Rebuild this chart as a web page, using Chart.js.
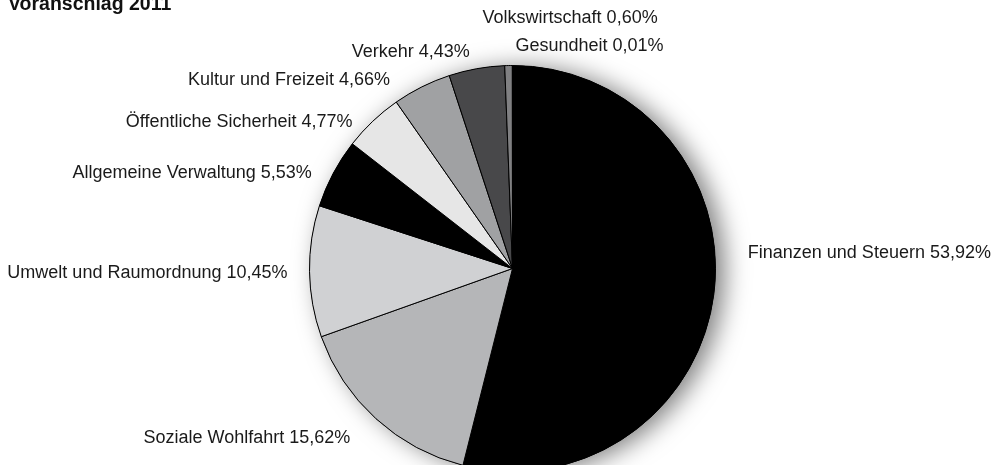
<!DOCTYPE html>
<html>
<head>
<meta charset="utf-8">
<script src="https://cdn.jsdelivr.net/npm/chart.js@4.4.1/dist/chart.umd.min.js"></script>
<style>
    html, body { margin: 0; padding: 0; background: #fff; overflow: hidden; }
    #wrap { width: 1000px; height: 480px; }
</style>
</head>
<body>
<div id="wrap"><canvas id="graficoPizza" width="1000" height="480"></canvas></div>
<script>
const titulo = "Voranschlag 2011";

const bereiche = [
    "Finanzen und Steuern",
    "Soziale Wohlfahrt",
    "Umwelt und Raumordnung",
    "Allgemeine Verwaltung",
    "Öffentliche Sicherheit",
    "Kultur und Freizeit",
    "Verkehr",
    "Volkswirtschaft",
    "Gesundheit"
];

const anteile = [53.92, 15.62, 10.45, 5.53, 4.77, 4.66, 4.43, 0.60, 0.01];

const farben = ["#000000", "#b5b6b8", "#d0d1d3", "#000000", "#e6e6e6", "#a0a1a3", "#48484a", "#808082", "#3a3a3a"];

// kleine Verschiebungen der Beschriftungen gegenüber der Winkelmitte
const labelNudge = [[12, -43], [-11, 3], [0, 1], [-2, 10], [-5, 17], [-22, 13], [-3, 5], [62, -26], [77, 3]];

window.onload = function () {

    const canvas = document.getElementById('graficoPizza');

    const formater = (v) => v.toFixed(2).replace('.', ',') + '%';

    const schatten = {
        id: 'schatten',
        beforeDatasetsDraw(chart) {
            const arc = chart.getDatasetMeta(0).data[0];
            const ctx = chart.ctx;
            ctx.save();
            ctx.shadowColor = 'rgba(0,0,0,0.5)';
            ctx.shadowBlur = 24;
            ctx.shadowOffsetX = 9;
            ctx.shadowOffsetY = 2;
            ctx.beginPath();
            ctx.arc(arc.x, arc.y, arc.outerRadius, 0, Math.PI * 2);
            ctx.fillStyle = '#000';
            ctx.fill();
            ctx.restore();
        }
    };

    const beschriftung = {
        id: 'beschriftung',
        afterDraw(chart) {
            const ctx = chart.ctx;
            const meta = chart.getDatasetMeta(0);
            ctx.save();
            ctx.fillStyle = '#1a1a1a';
            ctx.font = '18px "Liberation Sans", Arial, sans-serif';
            ctx.textBaseline = 'middle';
            meta.data.forEach((arc, i) => {
                const mid = (arc.startAngle + arc.endAngle) / 2;
                const r = arc.outerRadius + 22;
                const c = Math.cos(mid);
                const x = arc.x + c * r + labelNudge[i][0];
                const y = arc.y + Math.sin(mid) * r + labelNudge[i][1];
                ctx.textAlign = Math.abs(c) < 0.1 ? 'center' : (c > 0 ? 'left' : 'right');
                ctx.fillText(bereiche[i] + ' ' + formater(anteile[i]), x, y);
            });
            ctx.textAlign = 'left';
            ctx.textBaseline = 'alphabetic';
            ctx.font = 'bold 19.5px "Liberation Sans", Arial, sans-serif';
            ctx.fillStyle = '#111';
            ctx.fillText(titulo, 8, 10);
            ctx.restore();
        }
    };

    new Chart(canvas, {
        type: 'pie',
        data: {
            labels: bereiche,
            datasets: [{
                data: anteile,
                backgroundColor: farben,
                borderColor: '#000',
                borderWidth: 1
            }]
        },
        options: {
            responsive: false,
            animation: false,
            events: [],
            layout: { padding: { top: 65, bottom: 8, left: 309, right: 284 } },
            plugins: {
                legend: { display: false },
                tooltip: { enabled: false }
            }
        },
        plugins: [schatten, beschriftung]
    });
}
</script>
</body>
</html>
